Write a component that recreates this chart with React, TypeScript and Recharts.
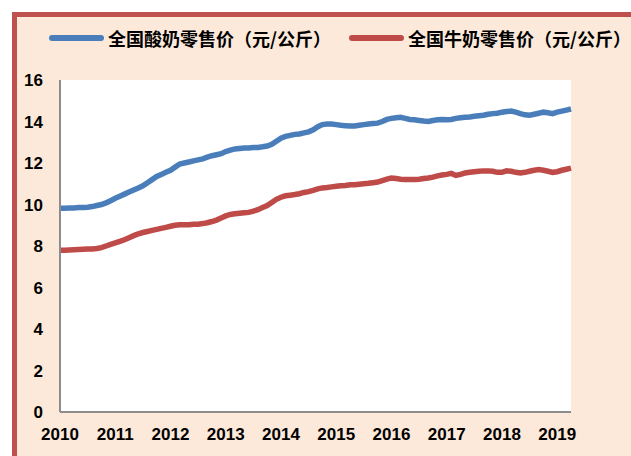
import React from 'react';
import { LineChart, Line, XAxis, YAxis, CartesianGrid, Legend } from 'recharts';

const yearTicks = [2010, 2011, 2012, 2013, 2014, 2015, 2016, 2017, 2018, 2019];
const valueTicks = [0, 2, 4, 6, 8, 10, 12, 14, 16];
const startYear = 2010;

const seriesNames = ['全国酸奶零售价（元/公斤）', '全国牛奶零售价（元/公斤）'];

// monthly, Jan 2010 .. Apr 2019
const yogurt = [
  9.82, 9.82, 9.83, 9.83, 9.85, 9.85, 9.87, 9.90, 9.95, 10.00, 10.08, 10.18,
  10.30, 10.40, 10.50, 10.60, 10.70, 10.80, 10.90, 11.05, 11.20, 11.35, 11.45, 11.55,
  11.65, 11.80, 11.95, 12.00, 12.05, 12.10, 12.15, 12.20, 12.28, 12.35, 12.40, 12.45,
  12.55, 12.62, 12.68, 12.70, 12.72, 12.72, 12.75, 12.75, 12.78, 12.82, 12.90, 13.05,
  13.20, 13.28, 13.33, 13.38, 13.40, 13.45, 13.50, 13.60, 13.75, 13.85, 13.88, 13.88,
  13.85, 13.82, 13.80, 13.78, 13.78, 13.82, 13.85, 13.88, 13.90, 13.92, 14.00, 14.10,
  14.15, 14.18, 14.20, 14.15, 14.10, 14.08, 14.05, 14.02, 14.00, 14.05, 14.08, 14.10,
  14.08, 14.10, 14.15, 14.18, 14.20, 14.22, 14.25, 14.28, 14.30, 14.35, 14.38, 14.40,
  14.45, 14.48, 14.50, 14.45, 14.38, 14.32, 14.30, 14.35, 14.40, 14.45, 14.42, 14.38,
  14.45, 14.50, 14.55, 14.60,
];

const milk = [
  7.80, 7.80, 7.81, 7.82, 7.83, 7.84, 7.85, 7.86, 7.88, 7.92, 8.00, 8.08,
  8.15, 8.22, 8.30, 8.40, 8.50, 8.58, 8.65, 8.70, 8.75, 8.80, 8.85, 8.90,
  8.95, 9.00, 9.02, 9.03, 9.03, 9.05, 9.05, 9.08, 9.12, 9.18, 9.25, 9.35,
  9.45, 9.52, 9.55, 9.58, 9.60, 9.62, 9.68, 9.75, 9.85, 9.95, 10.10, 10.25,
  10.35, 10.42, 10.45, 10.48, 10.52, 10.58, 10.62, 10.68, 10.75, 10.80, 10.82, 10.85,
  10.88, 10.90, 10.92, 10.95, 10.95, 10.98, 11.00, 11.02, 11.05, 11.08, 11.15, 11.22,
  11.28, 11.25, 11.22, 11.20, 11.20, 11.20, 11.22, 11.25, 11.28, 11.32, 11.38, 11.42,
  11.45, 11.50, 11.40, 11.45, 11.52, 11.55, 11.58, 11.60, 11.62, 11.62, 11.60, 11.55,
  11.55, 11.62, 11.60, 11.55, 11.52, 11.55, 11.60, 11.65, 11.68, 11.65, 11.60, 11.55,
  11.58, 11.65, 11.70, 11.75,
];

const data = yogurt.map((v, i) => ({
  t: startYear + i / 12,
  yogurt: v,
  milk: milk[i],
}));

const BLUE = '#4A7EBB';
const RED = '#BE4B48';
const AXIS = '#8C8C8C';
const tickStyle = {
  fontFamily: '"Liberation Sans", Arial, sans-serif',
  fontWeight: 700,
  fontSize: 17,
  fill: '#000',
};

const renderLegend = (props: any) => {
  const payload = [...(props.payload || [])].sort(
    (a: any, b: any) => seriesNames.indexOf(a.value) - seriesNames.indexOf(b.value)
  );
  return (
    <div
      style={{
        display: 'flex',
        alignItems: 'center',
        fontFamily: '"Noto Sans CJK SC", sans-serif',
        fontWeight: 700,
        fontSize: 18,
        lineHeight: '22px',
        whiteSpace: 'nowrap',
        color: '#000',
      }}
    >
      {payload.map((p: any, i: number) => (
        <span key={i} style={{ display: 'flex', alignItems: 'center', marginRight: 18 }}>
          <span
            style={{
              display: 'inline-block',
              width: 55,
              height: 6,
              borderRadius: 3,
              background: p.color,
              marginRight: 4,
            }}
          />
          {p.value}
        </span>
      ))}
    </div>
  );
};

export default function App() {
  return (
    <div
      style={{
        position: 'absolute',
        left: 0,
        top: 0,
        width: 631,
        height: 456,
        background: '#fff',
        overflow: 'hidden',
      }}
    >
      <div
        style={{
          position: 'absolute',
          left: 12,
          top: 12,
          width: 660,
          height: 480,
          background: '#FDE9D9',
          borderLeft: '5px solid #C0504D',
          borderTop: '5px solid #C0504D',
          boxSizing: 'border-box',
        }}
      />
      <div style={{ position: 'absolute', left: 0, top: 0 }}>
        <LineChart
          width={631}
          height={456}
          data={data}
          margin={{ top: 80, right: 60, left: 20, bottom: 14 }}
        >
          <CartesianGrid fill="#fff" horizontal={false} vertical={false} stroke="none" />
          <XAxis
            dataKey="t"
            type="number"
            domain={[2010, 2019.25]}
            ticks={yearTicks}
            tickLine={false}
            tickSize={6}
            tickMargin={10}
            height={30}
            axisLine={{ stroke: AXIS, strokeWidth: 2 }}
            tick={tickStyle}
            interval={0}
          />
          <YAxis
            domain={[0, 16]}
            ticks={valueTicks}
            tickLine={false}
            tickSize={6}
            tickMargin={11}
            width={40}
            axisLine={{ stroke: AXIS, strokeWidth: 2 }}
            tick={tickStyle}
            interval={0}
          />
          <Legend
            layout="horizontal"
            verticalAlign="middle"
            align="center"
            itemSorter={(item: any) => seriesNames.indexOf(item.value)}
            wrapperStyle={{ top: 27, left: 49, width: 580, height: 22 }}
            content={renderLegend}
          />
          <Line
            type="linear"
            dataKey="yogurt"
            name={seriesNames[0]}
            stroke={BLUE}
            strokeWidth={5.5}
            dot={false}
            activeDot={false}
            isAnimationActive={false}
          />
          <Line
            type="linear"
            dataKey="milk"
            name={seriesNames[1]}
            stroke={RED}
            strokeWidth={5.5}
            dot={false}
            activeDot={false}
            isAnimationActive={false}
          />
        </LineChart>
      </div>
    </div>
  );
}
